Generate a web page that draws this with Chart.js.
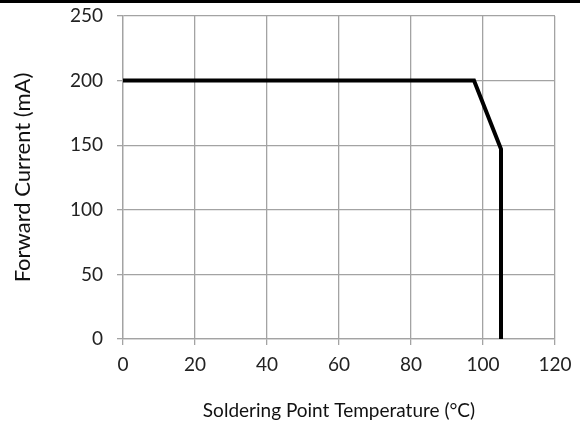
<!DOCTYPE html>
<html>
<head>
<meta charset="utf-8">
<script src="https://cdn.jsdelivr.net/npm/chart.js@4/dist/chart.umd.min.js"></script>
<style>
    html, body { margin: 0; padding: 0; background: #fff; }
    #wrap { position: relative; width: 580px; height: 425px; }
    #barra { position: absolute; left: 0; top: 0; width: 580px; height: 3px; background: #000; }
</style>
</head>
<body>
<div id="wrap">
    <canvas id="graficoDerating" width="580" height="425"></canvas>
    <div id="barra"></div>
</div>
<script>
// Curva de derating: temperatura (°C) vs corriente (mA)
const temperaturas = [0, 97.5, 105, 105];
const corrientes = [200, 200, 147, 0];

// Marcas de los ejes
const ticksX = [0, 20, 40, 60, 80, 100, 120];
const ticksY = [0, 50, 100, 150, 200, 250];

const puntos = temperaturas.map((t, i) => ({ x: t, y: corrientes[i] }));

const colorRejilla = '#a3a3a3';
const fuenteTicks = { family: 'Lato', size: 19 };

const ctx = document.getElementById('graficoDerating').getContext('2d');

new Chart(ctx, {
    type: 'line',
    data: {
        datasets: [{
            data: puntos,
            borderColor: '#000',
            borderWidth: 4,
            pointRadius: 0,
            tension: 0,
            fill: false
        }]
    },
    options: {
        responsive: false,
        animation: false,
        layout: { padding: { top: 16, right: 25, bottom: 0, left: 0 } },
        plugins: {
            legend: { display: false },
            tooltip: { enabled: false }
        },
        scales: {
            x: {
                type: 'linear',
                min: 0,
                max: 120,
                afterBuildTicks: scale => { scale.ticks = ticksX.map(v => ({ value: v })); },
                afterFit: scale => { scale.height = 86; },
                ticks: { color: '#222', font: fuenteTicks, padding: 8, maxRotation: 0 },
                grid: { color: colorRejilla, lineWidth: 1.3, tickLength: 6 },
                border: { color: colorRejilla, width: 1.3 },
                title: {
                    display: true,
                    text: 'Soldering Point Temperature (°C)',
                    color: '#111',
                    font: { family: 'Lato', size: 19 },
                    padding: { top: 0, bottom: 3 }
                }
            },
            y: {
                type: 'linear',
                min: 0,
                max: 250,
                afterBuildTicks: scale => { scale.ticks = ticksY.map(v => ({ value: v })); },
                afterFit: scale => {
                    scale.width = 123;
                    // el "250" puede salirse por arriba, el margen lo da el layout
                    scale.paddingTop = 0;
                },
                ticks: { color: '#222', font: fuenteTicks, padding: 14 },
                grid: { color: colorRejilla, lineWidth: 1.3, tickLength: 6 },
                border: { color: colorRejilla, width: 1.3 },
                title: {
                    display: true,
                    text: 'Forward Current (mA)',
                    color: '#111',
                    font: { family: 'Lato', size: 22 },
                    padding: { top: 10, bottom: 0 }
                }
            }
        }
    }
});
</script>
</body>
</html>
